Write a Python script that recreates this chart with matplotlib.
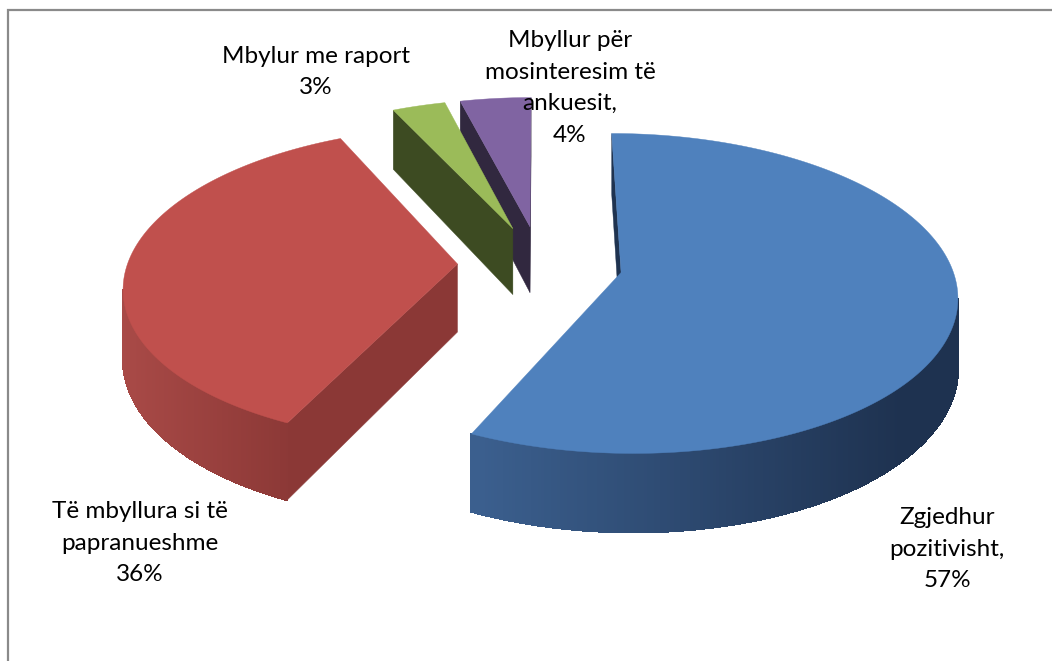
import numpy as np
import matplotlib.pyplot as plt
from matplotlib.patches import Polygon
from matplotlib.colors import to_rgb

# data
categories = ['Zgjedhur pozitivisht', 'Të mbyllura si të papranueshme',
              'Mbylur me raport', 'Mbyllur për mosinteresim të ankuesit']
values = [57, 36, 3, 4]
label_texts = ['Zgjedhur\npozitivisht,\n57%',
               'Të mbyllura si të\npapranueshme\n36%',
               'Mbylur me raport\n3%',
               'Mbyllur për\nmosinteresim të\nankuesit,\n4%']

# styling
top_colors = ['#4F81BD', '#C0504D', '#9BBB59', '#8064A2']
cut_colors = ['#1F3350', '#8B3836', '#3D4B22', '#31283F']
wall_light = ['#3B5F8E', '#A94A47', '#55692E', '#4A3A60']
wall_dark = ['#1E3250', '#8B3836', '#3D4B22', '#31283F']
label_xy = [(947, 549), (140, 543), (316, 72), (570, 88)]

# projection of the tilted disk (pixel space)
CX, CY = 540, 264
RX, RY = 330, 155
K = 0.13
DEPTH = 68
EXPLODE = 0.25


def proj(u, v, z=0.0):
    s = 1.0 / (1.0 + K * v)
    return CX + RX * u * s, CY - RY * v * s + DEPTH * z * s


def area(pts):
    x = np.array([p[0] for p in pts])
    y = np.array([p[1] for p in pts])
    return np.sum(x * np.roll(y, -1) - np.roll(x, -1) * y)


def face(ax, pts, color):
    if area(pts) < 0:
        ax.add_patch(Polygon(pts, closed=True, facecolor=color,
                             edgecolor=color, lw=0.3))


fig = plt.figure(figsize=(10.52, 6.61), dpi=100)
ax = fig.add_axes([0, 0, 1, 1])
ax.set_xlim(0, 1052)
ax.set_ylim(661, 0)
ax.axis('off')

frac = np.array(values, dtype=float) / sum(values)
ends = 360 * np.cumsum(frac)
starts = ends - 360 * frac

# back slices first
order = sorted(range(len(values)),
               key=lambda i: -np.cos(np.radians((starts[i] + ends[i]) / 2)))
for i in order:
    a0, a1 = starts[i], ends[i]
    mid = np.radians((a0 + a1) / 2)
    ou, ov = EXPLODE * np.sin(mid), EXPLODE * np.cos(mid)
    th = np.radians(np.linspace(a0, a1, max(int(a1 - a0) * 2, 8)))
    us = ou + np.sin(th)
    vs = ov + np.cos(th)

    apex_t = proj(ou, ov, 0)
    apex_b = proj(ou, ov, 1)
    # cut faces
    face(ax, [apex_t, proj(us[0], vs[0], 0), proj(us[0], vs[0], 1), apex_b],
         cut_colors[i])
    face(ax, [proj(us[-1], vs[-1], 0), apex_t, apex_b, proj(us[-1], vs[-1], 1)],
         cut_colors[i])
    # outer wall, shaded along x
    c_l, c_d = np.array(to_rgb(wall_light[i])), np.array(to_rgb(wall_dark[i]))
    for j in range(len(th) - 1):
        q = [proj(us[j], vs[j], 0), proj(us[j + 1], vs[j + 1], 0),
             proj(us[j + 1], vs[j + 1], 1), proj(us[j], vs[j], 1)]
        if area(q) < 0:
            if i == 0:
                t = np.clip((q[0][0] - 480) / 420, 0, 1)
            else:
                t = np.clip((q[0][0] - 120) / 175, 0, 1)
            col = c_l * (1 - t) + c_d * t
            ax.add_patch(Polygon(q, closed=True, facecolor=col,
                                 edgecolor=col, lw=1.0, antialiased=False))
    # top surface
    top = [apex_t] + [proj(u, v, 0) for u, v in zip(us, vs)]
    ax.add_patch(Polygon(top, closed=True, facecolor=top_colors[i],
                         edgecolor=top_colors[i], lw=0.3))

for txt, (x, y) in zip(label_texts, label_xy):
    ax.text(x, y, txt, ha='center', va='center', fontsize=17.5,
            family='Lato', linespacing=1.62, color='black')

# chart frame
ax.plot([8, 8, 1060], [670, 10, 10], color='#8A8A8A', lw=1.6,
        solid_joinstyle='miter', clip_on=False)

fig.savefig('out.png', dpi=100)
